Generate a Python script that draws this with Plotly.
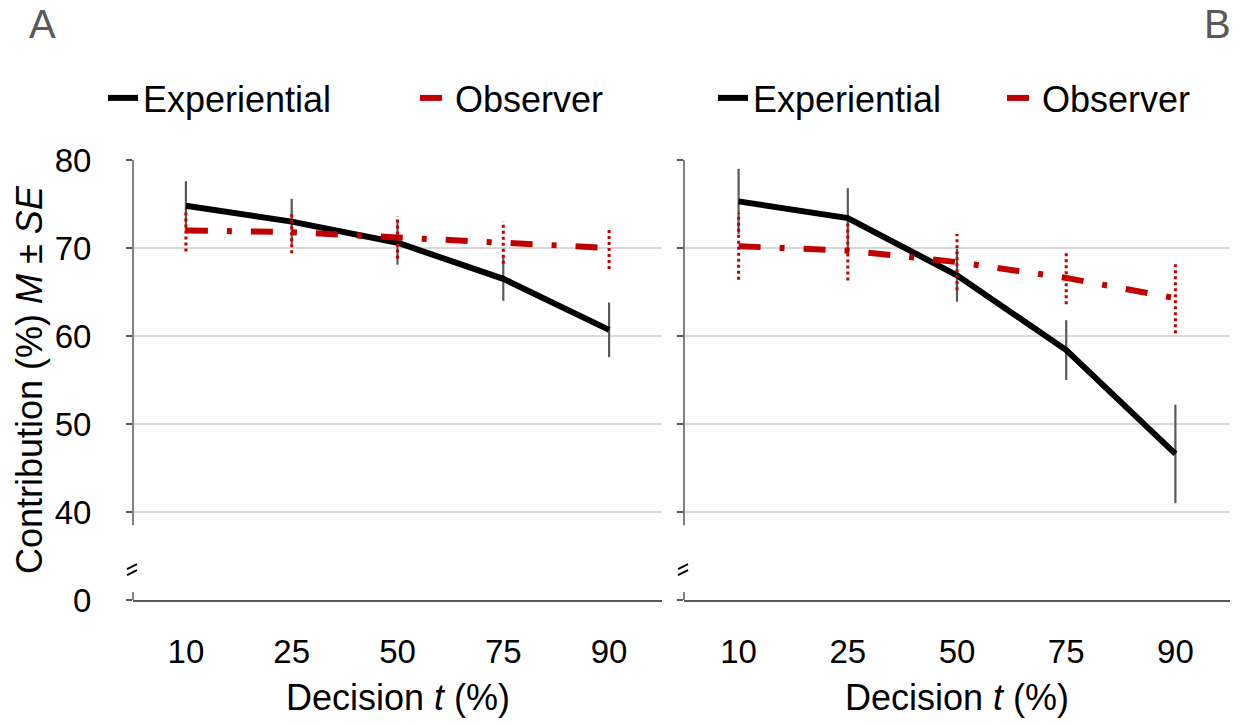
import plotly.graph_objects as go

# ---------------- data ----------------
decisions = ["10", "25", "50", "75", "90"]

expA_mean = [74.8, 73.0, 70.6, 66.5, 60.7]
expA_se = [2.8, 2.6, 2.5, 2.5, 3.1]
obsA_mean = [72.0, 71.8, 71.2, 70.6, 70.0]
obsA_se = [2.4, 2.4, 2.4, 2.4, 2.4]

expB_mean = [75.3, 73.4, 66.9, 58.4, 46.6]
expB_se = [3.7, 3.4, 3.0, 3.4, 5.6]
obsB_mean = [70.2, 69.7, 68.4, 66.6, 64.3]
obsB_se = [3.8, 3.4, 3.2, 3.0, 4.0]

# broken y axis: position 30 is labelled "0"
y_tickvals = [30, 40, 50, 60, 70, 80]
y_ticktext = ["0", "40", "50", "60", "70", "80"]

FONT = "Arial, Liberation Sans, sans-serif"
BLACK = "#000000"
RED = "#c00000"
GREY = "#595959"
GRID = "#d9d9d9"
W, H = 1241, 725


def seg_xy(cats, mean, se):
    xs, ys = [], []
    for c, m, s in zip(cats, mean, se):
        xs += [c, c, None]
        ys += [m - s, m + s, None]
    return xs, ys


fig = go.Figure()

panels = [
    ("x", "y", "legend", "legend2", expA_mean, expA_se, obsA_mean, obsA_se),
    ("x2", "y2", "legend3", "legend4", expB_mean, expB_se, obsB_mean, obsB_se),
]

for xa, ya, lgE, lgO, em, es, om, os_ in panels:
    fig.add_trace(go.Scatter(
        x=decisions, y=em, xaxis=xa, yaxis=ya, mode="lines",
        name="Experiential", legend=lgE,
        line=dict(color=BLACK, width=6),
        error_y=dict(type="data", array=es, visible=True, color=GREY,
                     thickness=2.2, width=0),
    ))
    ex, ey = seg_xy(decisions, om, os_)
    fig.add_trace(go.Scatter(
        x=ex, y=ey, xaxis=xa, yaxis=ya, mode="lines", showlegend=False,
        line=dict(color=RED, width=3, dash="dot"), hoverinfo="skip",
    ))
    fig.add_trace(go.Scatter(
        x=decisions, y=om, xaxis=xa, yaxis=ya, mode="lines",
        name="Observer", legend=lgO,
        line=dict(color=RED, width=6, dash="22px,19px,5px,19px"),
    ))

ydom = [(H - 600) / H, (H - 160) / H]

axis_common_y = dict(
    range=[30, 80], tickmode="array", tickvals=y_tickvals,
    showgrid=True, gridcolor=GRID, gridwidth=1.5, zeroline=False,
    showline=False, ticks="outside", ticklen=6, tickwidth=1.5,
    tickcolor=GREY, domain=ydom, automargin=False,
    tickfont=dict(family=FONT, size=33, color=BLACK),
)
axis_common_x = dict(
    type="category", range=[-0.5, 4.5], showgrid=False, zeroline=False,
    showline=True, linecolor=GREY, linewidth=1.5, ticks="", automargin=False,
    tickfont=dict(family=FONT, size=33, color=BLACK),
    ticklabelstandoff=22,
)


def leg(xpx):
    return dict(orientation="h", x=xpx / W, xanchor="left",
                y=(H - 98) / H, yanchor="middle",
                font=dict(family=FONT, size=36, color=BLACK),
                bgcolor="rgba(0,0,0,0)", borderwidth=0)


fig.update_layout(
    width=W, height=H,
    margin=dict(l=0, r=0, t=0, b=0, autoexpand=False),
    plot_bgcolor="white", paper_bgcolor="white",
    xaxis=dict(axis_common_x, domain=[133 / W, 662 / W], anchor="y"),
    xaxis2=dict(axis_common_x, domain=[684 / W, 1230 / W], anchor="y2"),
    yaxis=dict(axis_common_y, anchor="x", ticktext=y_ticktext,
               ticklabelstandoff=28),
    yaxis2=dict(axis_common_y, anchor="x2", showticklabels=False),
    legend=leg(103),
    legend2=leg(415),
    legend3=leg(713),
    legend4=leg(1002),
    showlegend=True,
)

shapes = []
for xd, yr in (("x domain", "y"), ("x2 domain", "y2")):
    # broken left axis line: upper part and small lower stub
    shapes.append(dict(type="line", xref=xd, yref=yr, x0=0, x1=0, y0=38.5, y1=80,
                       line=dict(color=GREY, width=1.5)))
    shapes.append(dict(type="line", xref=xd, yref=yr, x0=0, x1=0, y0=30, y1=30.9,
                       line=dict(color=GREY, width=1.5)))
    # break marks
    for off in (2.5, -3.5):
        shapes.append(dict(type="line", xref=xd, yref=yr,
                           xsizemode="pixel", xanchor=0, x0=-6, x1=4,
                           ysizemode="pixel", yanchor=33.5,
                           y0=off - 2.5, y1=off + 2.5,
                           line=dict(color=BLACK, width=2)))
fig.update_layout(shapes=shapes)


def note(text, xpx, ypx, size=36, color=BLACK, angle=0):
    return dict(text=text, x=xpx / W, y=(H - ypx) / H, xref="paper", yref="paper",
                xanchor="center", yanchor="middle", textangle=angle,
                showarrow=False, font=dict(family=FONT, size=size, color=color))


ann = [
    note("Contribution (%) <i>M</i> ± <i>SE</i>", 30, 380, angle=-90),
    note("Decision <i>t</i> (%)", 398, 697),
    note("Decision <i>t</i> (%)", 957, 697),
    note("A", 42, 24, size=40, color=GREY),
    note("B", 1217, 24, size=40, color=GREY),
]
fig.update_layout(annotations=ann)

fig.write_html("out.html")
